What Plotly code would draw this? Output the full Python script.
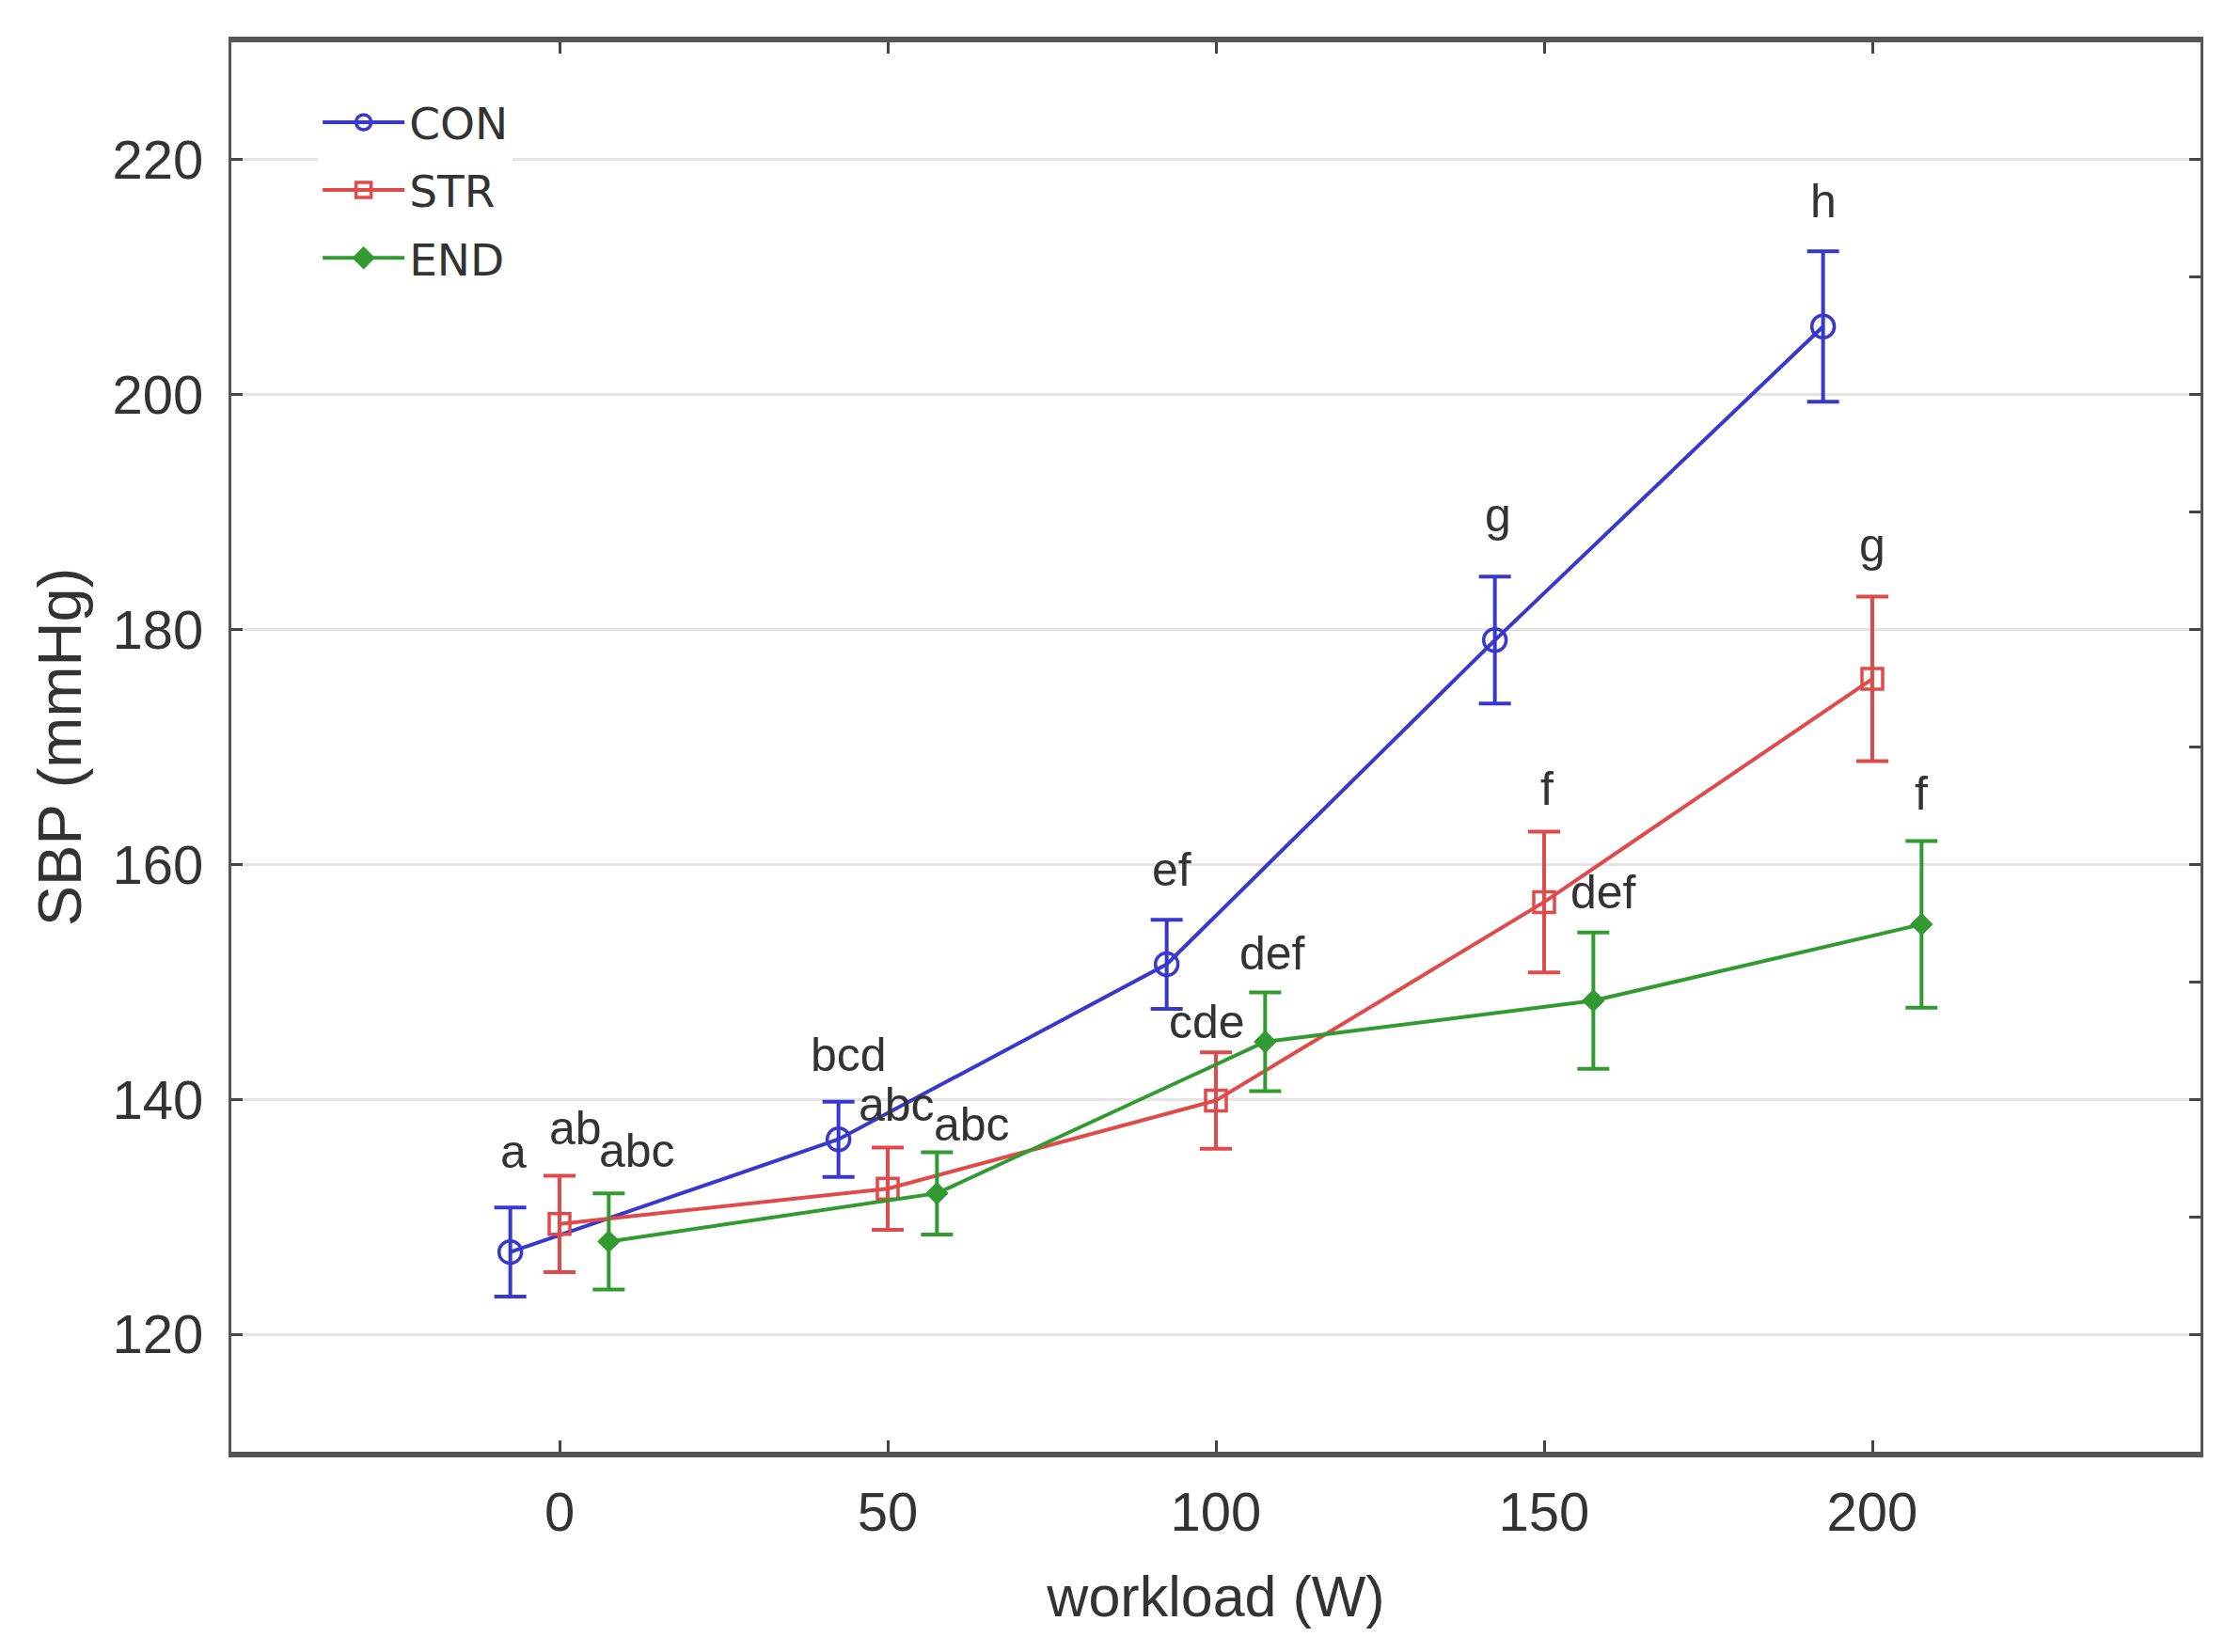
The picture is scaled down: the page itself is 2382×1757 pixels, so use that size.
import plotly.graph_objects as go

# workload steps (W) and the horizontal dodge used for each group
workload = [0, 50, 100, 150, 200]
groups = ["CON", "STR", "END"]
dodge = [-7.5, 0.0, 7.5]

# mean SBP (mmHg) and error half-widths
con_mean = [127.0, 136.6, 151.5, 179.1, 205.8]
con_err = [3.8, 3.2, 3.8, 5.4, 6.4]
str_mean = [129.4, 132.4, 139.9, 156.8, 175.8]
str_err = [4.1, 3.5, 4.1, 6.0, 7.0]
end_mean = [127.9, 132.0, 144.9, 148.4, 154.9]
end_err = [4.1, 3.5, 4.2, 5.8, 7.1]

# significance letters
con_letters = ["a", "bcd", "ef", "g", "h"]
str_letters = ["ab", "abc", "cde", "f", "g"]
end_letters = ["abc", "abc", "def", "def", "f"]

colors = ["#3838cc", "#e04a4a", "#319a31"]
symbols = ["circle-open", "square-open", "diamond"]
marker_sizes = [24, 22, 15]

# pixel nudges (dx, dy) for each letter above its error bar
letter_shift = [
    [(3, 29), (11, 20), (5, 23), (3, 35), (0, 23)],
    [(17, 20), (9, 15), (-10, 2), (3, 15), (0, 25)],
    [(30, 15), (37, -1), (8, 12), (11, 13), (0, 20)],
]

means = [con_mean, str_mean, end_mean]
errs = [con_err, str_err, end_err]
letters = [con_letters, str_letters, end_letters]

TEXT_FONT = "Liberation Sans, Arial, sans-serif"

fig = go.Figure()

annotations = []
for i, name in enumerate(groups):
    xs = [w + dodge[i] for w in workload]
    fig.add_trace(
        go.Scatter(
            x=xs,
            y=means[i],
            name=name,
            mode="lines+markers",
            legendgroup=name,
            line=dict(color=colors[i], width=4),
            marker=dict(
                symbol=symbols[i],
                size=marker_sizes[i],
                color=colors[i],
                line=dict(color=colors[i], width=3.5),
            ),
            error_y=dict(
                type="data",
                array=errs[i],
                color=colors[i],
                thickness=4,
                width=17,
            ),
        )
    )
    for j, txt in enumerate(letters[i]):
        dx, dy = letter_shift[i][j]
        annotations.append(
            dict(
                x=xs[j],
                y=means[i][j] + errs[i][j],
                text=txt,
                showarrow=False,
                xanchor="center",
                yanchor="bottom",
                xshift=dx,
                yshift=dy,
                font=dict(family=TEXT_FONT, size=50, color="#333333"),
            )
        )

# empty trace so the right-hand tick axis is drawn
fig.add_trace(go.Scatter(x=[], y=[], yaxis="y2", showlegend=False, hoverinfo="skip"))

fig.update_layout(
    width=2382,
    height=1757,
    paper_bgcolor="white",
    plot_bgcolor="white",
    margin=dict(l=238, r=50, t=37, b=221),
    showlegend=True,
    legend=dict(
        x=0.044,
        y=0.968,
        xanchor="left",
        yanchor="top",
        bgcolor="white",
        borderwidth=0,
        font=dict(family="DejaVu Sans, Open Sans, sans-serif", size=47, color="#333333"),
        itemwidth=87,
        tracegroupgap=8,
    ),
    annotations=annotations,
    xaxis=dict(
        range=[-50, 250],
        tickvals=workload,
        ticks="inside",
        ticklen=12,
        tickwidth=3,
        tickcolor="#444444",
        showline=True,
        linewidth=6,
        linecolor="#555555",
        mirror="ticks",
        showgrid=False,
        zeroline=False,
        ticklabelstandoff=8,
        tickfont=dict(family=TEXT_FONT, size=58, color="#333333"),
        title=dict(
            text="workload (W)",
            font=dict(family=TEXT_FONT, size=61, color="#333333"),
            standoff=40,
        ),
    ),
    yaxis=dict(
        range=[110, 230],
        tickvals=[120, 140, 160, 180, 200, 220],
        ticks="inside",
        ticklen=12,
        tickwidth=3,
        tickcolor="#444444",
        showline=True,
        linewidth=3,
        linecolor="#555555",
        mirror=True,
        showgrid=True,
        gridcolor="#e4e4e4",
        gridwidth=3,
        zeroline=False,
        ticklabelstandoff=15,
        tickfont=dict(family=TEXT_FONT, size=58, color="#333333"),
        title=dict(
            text="SBP (mmHg)",
            font=dict(family=TEXT_FONT, size=65, color="#333333"),
            standoff=12,
        ),
    ),
    yaxis2=dict(
        range=[110, 230],
        overlaying="y",
        side="right",
        anchor="x",
        dtick=10,
        tick0=110,
        ticks="inside",
        ticklen=12,
        tickwidth=3,
        tickcolor="#444444",
        showticklabels=False,
        showgrid=False,
        zeroline=False,
        showline=False,
    ),
)

fig.write_html("out.html")
